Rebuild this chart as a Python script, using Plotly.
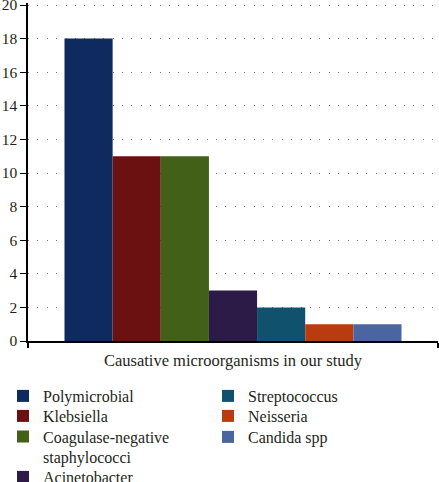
import plotly.graph_objects as go

categories = ["Polymicrobial", "Klebsiella", "Coagulase-negative<br>staphylococci",
              "Acinetobacter", "Streptococcus", "Neisseria", "Candida spp"]
values = [18, 11, 11, 3, 2, 1, 1]
colors = ["#0f2a5e", "#6b1111", "#426017", "#2d1b47", "#10516d", "#b83c0f", "#4a65a0"]
group_label = "Causative microorganisms in our study"
y_ticks = list(range(0, 21, 2))

FONT = "Liberation Serif"
TXT = "#231f20"
W, H = 439, 482

# legend entry placement (px from top-left): (left, center y, valign)
legend_pos = [(3, 396, "middle"), (3, 416, "middle"), (3, 447, "top"), (3, 477, "middle"),
              (208, 396, "middle"), (208, 416, "middle"), (208, 437, "middle")]

fig = go.Figure()
for i, (name, v, c) in enumerate(zip(categories, values, colors)):
    lid = "legend" if i == 0 else f"legend{i + 1}"
    fig.add_trace(go.Bar(
        x=[group_label], y=[v], name=name, marker=dict(color=c, line=dict(width=0)),
        legend=lid,
    ))

legends = {}
for i, (lx, ly, va) in enumerate(legend_pos):
    lid = "legend" if i == 0 else f"legend{i + 1}"
    legends[lid] = dict(xref="container", yref="container",
                        x=lx / W, y=1 - ly / H, xanchor="left", yanchor="middle",
                        font=dict(family=FONT, size=16, color=TXT), valign=va,
                        itemwidth=30, bgcolor="rgba(0,0,0,0)", borderwidth=0)

fig.update_layout(
    width=W, height=H,
    margin=dict(l=28, r=1, t=3, b=141, autoexpand=False),
    paper_bgcolor="white", plot_bgcolor="white",
    barmode="group", bargap=0.178, bargroupgap=0,
    font=dict(family=FONT, size=16.5, color=TXT),
    showlegend=True,
    **legends,
)

fig.update_xaxes(
    showline=True, linecolor="black", linewidth=1.5,
    ticks="outside", tickson="boundaries", ticklen=5, tickcolor="black", tickwidth=1.5,
    showticklabels=True, tickfont=dict(family=FONT, size=16.5, color=TXT),
    ticklabelstandoff=3, ticklabeloverflow="allow",
    showgrid=False, automargin=False,
)
fig.update_yaxes(
    range=[0, 20.12], tickvals=y_ticks, ticks="outside", ticklen=6, tickcolor="black",
    showline=True, linecolor="black", linewidth=1.5,
    showgrid=True, gridcolor="#777777", gridwidth=1, griddash="1px,8.4px",
    zeroline=False, automargin=False, ticklabeloverflow="allow",
    tickfont=dict(family=FONT, size=15.5, color=TXT),
)

fig.write_html("out.html", config={"displayModeBar": False},
               post_script="document.body.style.margin='0';document.body.style.overflow='hidden';")
